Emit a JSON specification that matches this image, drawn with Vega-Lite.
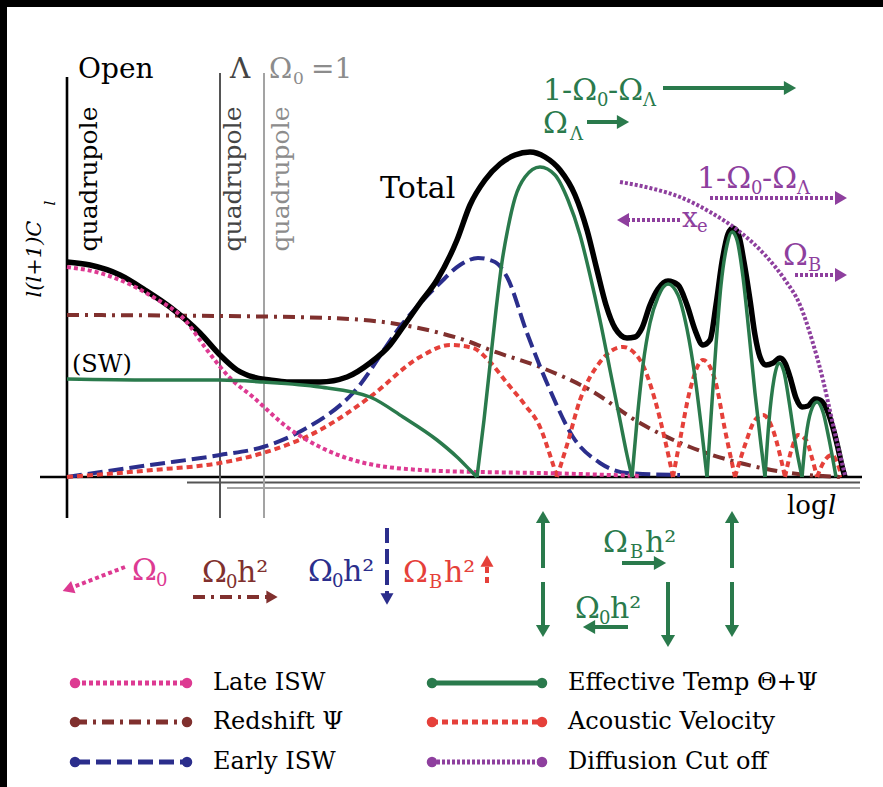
{
  "$schema": "https://vega.github.io/schema/vega-lite/v6.json",
  "width": 883,
  "height": 787,
  "autosize": {"type": "fit", "contains": "padding"},
  "padding": {"left": 7, "top": 7, "right": 0, "bottom": 0},
  "background": "#000000",
  "config": {"view": {"fill": "#ffffff", "stroke": null}, "text": {"font": "DejaVu Serif"}},
  "encoding": {
    "x": {"field": "x", "type": "quantitative", "scale": {"domain": [-6, 81.6], "nice": false, "zero": false}, "axis": null},
    "y": {"field": "y", "type": "quantitative", "scale": {"domain": [-77.5, 117.5], "nice": false, "zero": false}, "axis": null}
  },
  "datasets": {
    "curves": [
      {"s":"total","g":0,"x":0,"y":53.75},{"s":"total","g":0,"x":2.3,"y":53},{"s":"total","g":0,"x":5.3,"y":50.5},{"s":"total","g":0,"x":7.8,"y":46.75},{"s":"total","g":0,"x":10.3,"y":42.5},{"s":"total","g":0,"x":13.3,"y":36},{"s":"total","g":0,"x":15.3,"y":30.5},{"s":"total","g":0,"x":17,"y":26.75},{"s":"total","g":0,"x":18.6,"y":25},{"s":"total","g":0,"x":20.3,"y":24.25},{"s":"total","g":0,"x":22,"y":23.75},{"s":"total","g":0,"x":25.3,"y":23.75},{"s":"total","g":0,"x":28,"y":25},{"s":"total","g":0,"x":30.3,"y":28.5},{"s":"total","g":0,"x":32.3,"y":33},{"s":"total","g":0,"x":33.6,"y":37.5},{"s":"total","g":0,"x":35.3,"y":43.5},{"s":"total","g":0,"x":37,"y":49.25},{"s":"total","g":0,"x":39,"y":59.25},{"s":"total","g":0,"x":40.3,"y":68},{"s":"total","g":0,"x":41.8,"y":74.25},{"s":"total","g":0,"x":43.3,"y":78.25},{"s":"total","g":0,"x":44.8,"y":80.5},{"s":"total","g":0,"x":46.3,"y":81.25},{"s":"total","g":0,"x":47.8,"y":80},{"s":"total","g":0,"x":49.3,"y":76.75},{"s":"total","g":0,"x":50.8,"y":70.5},{"s":"total","g":0,"x":52,"y":61.75},{"s":"total","g":0,"x":53,"y":51.75},{"s":"total","g":0,"x":53.9,"y":43},{"s":"total","g":0,"x":54.8,"y":37.25},{"s":"total","g":0,"x":56,"y":34.75},{"s":"total","g":0,"x":56.8,"y":35},{"s":"total","g":0,"x":57.5,"y":37.25},{"s":"total","g":0,"x":58.3,"y":43},{"s":"total","g":0,"x":59.1,"y":47},{"s":"total","g":0,"x":60.1,"y":49},{"s":"total","g":0,"x":61.1,"y":48},{"s":"total","g":0,"x":62,"y":43},{"s":"total","g":0,"x":62.8,"y":36.75},{"s":"total","g":0,"x":63.6,"y":33},{"s":"total","g":0,"x":64.3,"y":34.25},{"s":"total","g":0,"x":64.9,"y":43},{"s":"total","g":0,"x":65.5,"y":53.75},{"s":"total","g":0,"x":66.1,"y":60.75},{"s":"total","g":0,"x":66.6,"y":62.25},{"s":"total","g":0,"x":67.1,"y":61},{"s":"total","g":0,"x":67.7,"y":53.75},{"s":"total","g":0,"x":68.3,"y":44.25},{"s":"total","g":0,"x":68.8,"y":35.5},{"s":"total","g":0,"x":69.3,"y":30},{"s":"total","g":0,"x":69.9,"y":28},{"s":"total","g":0,"x":70.6,"y":28.5},{"s":"total","g":0,"x":71.3,"y":29.75},{"s":"total","g":0,"x":71.8,"y":28.5},{"s":"total","g":0,"x":72.3,"y":25},{"s":"total","g":0,"x":72.9,"y":19.75},{"s":"total","g":0,"x":73.5,"y":17.5},{"s":"total","g":0,"x":74.1,"y":17.75},{"s":"total","g":0,"x":74.8,"y":19.5},{"s":"total","g":0,"x":75.3,"y":19.25},{"s":"total","g":0,"x":76,"y":16.75},{"s":"total","g":0,"x":76.6,"y":12.25},{"s":"total","g":0,"x":77.1,"y":7.25},{"s":"total","g":0,"x":77.6,"y":1.75},{"s":"total","g":0,"x":77.8,"y":0},

      {"s":"eff","g":0,"x":0,"y":24.5},{"s":"eff","g":0,"x":8.3,"y":24.25},{"s":"eff","g":0,"x":15.3,"y":24.25},{"s":"eff","g":0,"x":19.6,"y":23.75},{"s":"eff","g":0,"x":25.3,"y":22.5},{"s":"eff","g":0,"x":30.3,"y":20},{"s":"eff","g":0,"x":33.6,"y":15},{"s":"eff","g":0,"x":37,"y":9.25},{"s":"eff","g":0,"x":39,"y":5},{"s":"eff","g":0,"x":40.3,"y":1.75},{"s":"eff","g":0,"x":41,"y":0},
      {"s":"eff","g":1,"x":41,"y":0},{"s":"eff","g":1,"x":41.7,"y":14.25},{"s":"eff","g":1,"x":42.3,"y":28},{"s":"eff","g":1,"x":42.9,"y":41.75},{"s":"eff","g":1,"x":43.5,"y":53.75},{"s":"eff","g":1,"x":44.1,"y":62.25},{"s":"eff","g":1,"x":44.8,"y":69.75},{"s":"eff","g":1,"x":45.8,"y":75},{"s":"eff","g":1,"x":47.3,"y":77.5},{"s":"eff","g":1,"x":48.8,"y":75.5},{"s":"eff","g":1,"x":50.1,"y":69.25},{"s":"eff","g":1,"x":51.3,"y":60.5},{"s":"eff","g":1,"x":52.3,"y":50.5},{"s":"eff","g":1,"x":53.3,"y":39.25},{"s":"eff","g":1,"x":54.3,"y":26.75},{"s":"eff","g":1,"x":55.3,"y":14.25},{"s":"eff","g":1,"x":56,"y":5.5},{"s":"eff","g":1,"x":56.5,"y":0},
      {"s":"eff","g":2,"x":56.5,"y":0},{"s":"eff","g":2,"x":57,"y":14},{"s":"eff","g":2,"x":57.6,"y":28},{"s":"eff","g":2,"x":58.3,"y":38.5},{"s":"eff","g":2,"x":59.1,"y":45},{"s":"eff","g":2,"x":60.1,"y":48.25},{"s":"eff","g":2,"x":61.1,"y":45.5},{"s":"eff","g":2,"x":62,"y":37},{"s":"eff","g":2,"x":62.8,"y":25},{"s":"eff","g":2,"x":63.5,"y":11},{"s":"eff","g":2,"x":64,"y":0},
      {"s":"eff","g":3,"x":64,"y":0},{"s":"eff","g":3,"x":64.4,"y":15},{"s":"eff","g":3,"x":64.9,"y":33},{"s":"eff","g":3,"x":65.4,"y":48},{"s":"eff","g":3,"x":66,"y":58},{"s":"eff","g":3,"x":66.5,"y":61.25},{"s":"eff","g":3,"x":67,"y":59.25},{"s":"eff","g":3,"x":67.6,"y":50},{"s":"eff","g":3,"x":68.2,"y":36},{"s":"eff","g":3,"x":68.8,"y":21},{"s":"eff","g":3,"x":69.4,"y":8},{"s":"eff","g":3,"x":69.8,"y":0},
      {"s":"eff","g":4,"x":69.8,"y":0},{"s":"eff","g":4,"x":70.2,"y":14},{"s":"eff","g":4,"x":70.7,"y":24.5},{"s":"eff","g":4,"x":71.2,"y":28.5},{"s":"eff","g":4,"x":71.7,"y":26.25},{"s":"eff","g":4,"x":72.2,"y":19},{"s":"eff","g":4,"x":72.8,"y":9},{"s":"eff","g":4,"x":73.5,"y":0},
      {"s":"eff","g":5,"x":73.5,"y":0},{"s":"eff","g":5,"x":73.9,"y":10},{"s":"eff","g":5,"x":74.4,"y":16.5},{"s":"eff","g":5,"x":75,"y":18.75},{"s":"eff","g":5,"x":75.6,"y":16.25},{"s":"eff","g":5,"x":76.2,"y":9.5},{"s":"eff","g":5,"x":76.9,"y":0},

      {"s":"late","g":0,"x":0,"y":52.5},{"s":"late","g":0,"x":3.3,"y":51},{"s":"late","g":0,"x":8.6,"y":45},{"s":"late","g":0,"x":11.8,"y":39.25},{"s":"late","g":0,"x":14,"y":31.75},{"s":"late","g":0,"x":16.3,"y":24.75},{"s":"late","g":0,"x":18.6,"y":20},{"s":"late","g":0,"x":22,"y":12.5},{"s":"late","g":0,"x":25.3,"y":7.5},{"s":"late","g":0,"x":28.6,"y":4.25},{"s":"late","g":0,"x":35.3,"y":1.75},{"s":"late","g":0,"x":41.3,"y":1.25},{"s":"late","g":0,"x":47.3,"y":1},{"s":"late","g":0,"x":57.3,"y":0.25},

      {"s":"redshift","g":0,"x":0,"y":40.5},{"s":"redshift","g":0,"x":15.3,"y":40.25},{"s":"redshift","g":0,"x":26.3,"y":39.75},{"s":"redshift","g":0,"x":33.6,"y":38},{"s":"redshift","g":0,"x":37.3,"y":36},{"s":"redshift","g":0,"x":40.3,"y":33.75},{"s":"redshift","g":0,"x":42.3,"y":31.75},{"s":"redshift","g":0,"x":47.3,"y":27.5},{"s":"redshift","g":0,"x":52.3,"y":21.75},{"s":"redshift","g":0,"x":57.3,"y":13.5},{"s":"redshift","g":0,"x":62.3,"y":7.5},{"s":"redshift","g":0,"x":67.3,"y":3.5},{"s":"redshift","g":0,"x":72.3,"y":1},{"s":"redshift","g":0,"x":77.3,"y":0},

      {"s":"early","g":0,"x":0,"y":0},{"s":"early","g":0,"x":8.3,"y":3},{"s":"early","g":0,"x":15.3,"y":5.5},{"s":"early","g":0,"x":19.6,"y":7.5},{"s":"early","g":0,"x":23.6,"y":11.75},{"s":"early","g":0,"x":28.6,"y":21},{"s":"early","g":0,"x":33.6,"y":38.5},{"s":"early","g":0,"x":37.3,"y":48.5},{"s":"early","g":0,"x":39.3,"y":53},{"s":"early","g":0,"x":41.1,"y":54.75},{"s":"early","g":0,"x":42.8,"y":53.75},{"s":"early","g":0,"x":44,"y":50},{"s":"early","g":0,"x":46,"y":36},{"s":"early","g":0,"x":48.3,"y":21.75},{"s":"early","g":0,"x":50.6,"y":10},{"s":"early","g":0,"x":53.3,"y":3.5},{"s":"early","g":0,"x":56,"y":1},{"s":"early","g":0,"x":61.3,"y":0.5},

      {"s":"acoustic","g":1,"x":0,"y":0},{"s":"acoustic","g":1,"x":8.6,"y":1.75},{"s":"acoustic","g":1,"x":15.3,"y":3.5},{"s":"acoustic","g":1,"x":19.6,"y":6},{"s":"acoustic","g":1,"x":25.3,"y":11.75},{"s":"acoustic","g":1,"x":30.3,"y":20},{"s":"acoustic","g":1,"x":35.3,"y":30},{"s":"acoustic","g":1,"x":38.3,"y":33},{"s":"acoustic","g":1,"x":40.6,"y":32.25},{"s":"acoustic","g":1,"x":42.3,"y":28.75},{"s":"acoustic","g":1,"x":44,"y":23.5},{"s":"acoustic","g":1,"x":45.8,"y":18},{"s":"acoustic","g":1,"x":47.3,"y":12.5},{"s":"acoustic","g":1,"x":48.3,"y":5.5},{"s":"acoustic","g":1,"x":49,"y":0},
      {"s":"acoustic","g":2,"x":49,"y":0},{"s":"acoustic","g":2,"x":50,"y":8},{"s":"acoustic","g":2,"x":51.3,"y":19.25},{"s":"acoustic","g":2,"x":53.3,"y":28.75},{"s":"acoustic","g":2,"x":55.6,"y":32.5},{"s":"acoustic","g":2,"x":57.3,"y":29.25},{"s":"acoustic","g":2,"x":58.8,"y":19.25},{"s":"acoustic","g":2,"x":59.8,"y":9.25},{"s":"acoustic","g":2,"x":60.6,"y":0},
      {"s":"acoustic","g":3,"x":60.6,"y":0},{"s":"acoustic","g":3,"x":61.3,"y":9.25},{"s":"acoustic","g":3,"x":62.3,"y":21.75},{"s":"acoustic","g":3,"x":63.6,"y":29.25},{"s":"acoustic","g":3,"x":64.8,"y":24.25},{"s":"acoustic","g":3,"x":65.8,"y":11.75},{"s":"acoustic","g":3,"x":66.8,"y":0},
      {"s":"acoustic","g":4,"x":66.8,"y":0},{"s":"acoustic","g":4,"x":67.8,"y":8},{"s":"acoustic","g":4,"x":68.8,"y":14.25},{"s":"acoustic","g":4,"x":69.6,"y":15.5},{"s":"acoustic","g":4,"x":70.6,"y":11.75},{"s":"acoustic","g":4,"x":71.3,"y":5.5},{"s":"acoustic","g":4,"x":71.8,"y":0},
      {"s":"acoustic","g":5,"x":71.8,"y":0},{"s":"acoustic","g":5,"x":72.5,"y":7.25},{"s":"acoustic","g":5,"x":73.1,"y":10.5},{"s":"acoustic","g":5,"x":73.9,"y":9.25},{"s":"acoustic","g":5,"x":74.5,"y":4.75},{"s":"acoustic","g":5,"x":75,"y":0},
      {"s":"acoustic","g":6,"x":75,"y":0},{"s":"acoustic","g":6,"x":75.8,"y":4.25},{"s":"acoustic","g":6,"x":76.5,"y":5.5},{"s":"acoustic","g":6,"x":77.1,"y":3},{"s":"acoustic","g":6,"x":77.5,"y":0},

      {"s":"diff","g":0,"x":55.3,"y":73.75},{"s":"diff","g":0,"x":58.3,"y":72.25},{"s":"diff","g":0,"x":61.3,"y":70},{"s":"diff","g":0,"x":64.3,"y":66.25},{"s":"diff","g":0,"x":67.3,"y":61.25},{"s":"diff","g":0,"x":69.8,"y":55.5},{"s":"diff","g":0,"x":71.8,"y":49.25},{"s":"diff","g":0,"x":73.3,"y":43},{"s":"diff","g":0,"x":74.5,"y":34.25},{"s":"diff","g":0,"x":75.6,"y":24.25},{"s":"diff","g":0,"x":76.5,"y":14.25},{"s":"diff","g":0,"x":77.3,"y":5.5},{"s":"diff","g":0,"x":77.8,"y":0.5}
    ],
    "legend": [
      {"s":"late","x":0.8,"x2":12,"y":-51.5,"tx":14.6,"t":"Late ISW"},
      {"s":"redshift","x":0.8,"x2":12,"y":-61.25,"tx":14.6,"t":"Redshift Ψ"},
      {"s":"early","x":0.8,"x2":12,"y":-71.25,"tx":14.6,"t":"Early ISW"},
      {"s":"eff","x":36.5,"x2":47.5,"y":-51.5,"tx":50.1,"t":"Effective Temp Θ+Ψ"},
      {"s":"acoustic","x":36.5,"x2":47.5,"y":-61.25,"tx":50.1,"t":"Acoustic Velocity"},
      {"s":"diff","x":36.5,"x2":47.5,"y":-71.25,"tx":50.1,"t":"Diffusion Cut off"}
    ]
  },
  "layer": [
    {"data": {"values": [{"x":-2.7,"x2":79.5,"y":0,"y2":0},{"x":0,"x2":0,"y":100,"y2":-10.25}]},
     "mark": {"type": "rule", "color": "#000000", "strokeWidth": 2.6},
     "encoding": {"x2": {"field": "x2"}, "y2": {"field": "y2"}}},
    {"data": {"values": [{"x":12,"x2":79.3,"y":-1.4,"y2":-1.4},{"x":15.3,"x2":15.3,"y":101,"y2":-10.25}]},
     "mark": {"type": "rule", "color": "#555555", "strokeWidth": 2},
     "encoding": {"x2": {"field": "x2"}, "y2": {"field": "y2"}}},
    {"data": {"values": [{"x":16,"x2":79.3,"y":-2.75,"y2":-2.75},{"x":19.7,"x2":19.7,"y":101,"y2":-10.25}]},
     "mark": {"type": "rule", "color": "#a3a3a3", "strokeWidth": 2},
     "encoding": {"x2": {"field": "x2"}, "y2": {"field": "y2"}}},

    {"data": {"name": "curves"}, "transform": [{"filter": {"field": "s", "equal": "redshift"}}],
     "mark": {"type": "line", "interpolate": "monotone", "color": "#80302e", "strokeWidth": 4, "strokeDash": [12,6,3,6]},
     "encoding": {"detail": {"field": "g"}}},
    {"data": {"name": "curves"}, "transform": [{"filter": {"field": "s", "equal": "early"}}],
     "mark": {"type": "line", "interpolate": "monotone", "color": "#2b2e8c", "strokeWidth": 4, "strokeDash": [15,6]},
     "encoding": {"detail": {"field": "g"}}},
    {"data": {"name": "curves"}, "transform": [{"filter": {"field": "s", "equal": "acoustic"}}],
     "mark": {"type": "line", "interpolate": "monotone", "color": "#e5403a", "strokeWidth": 4, "strokeDash": [6,4]},
     "encoding": {"detail": {"field": "g"}}},
    {"data": {"name": "curves"}, "transform": [{"filter": {"field": "s", "equal": "total"}}],
     "mark": {"type": "line", "interpolate": "monotone", "color": "#000000", "strokeWidth": 5.5},
     "encoding": {"detail": {"field": "g"}}},
    {"data": {"name": "curves"}, "transform": [{"filter": {"field": "s", "equal": "late"}}],
     "mark": {"type": "line", "interpolate": "monotone", "color": "#dd3a92", "strokeWidth": 4, "strokeDash": [4,3]},
     "encoding": {"detail": {"field": "g"}}},
    {"data": {"name": "curves"}, "transform": [{"filter": {"field": "s", "equal": "eff"}}],
     "mark": {"type": "line", "interpolate": "monotone", "color": "#2a7a4c", "strokeWidth": 3.5},
     "encoding": {"detail": {"field": "g"}}},
    {"data": {"name": "curves"}, "transform": [{"filter": {"field": "s", "equal": "diff"}}],
     "mark": {"type": "line", "interpolate": "monotone", "color": "#8e3f9e", "strokeWidth": 4, "strokeDash": [3,2]},
     "encoding": {"detail": {"field": "g"}}},

    {"data": {"name": "legend"},
     "mark": {"type": "rule", "strokeWidth": 5, "strokeCap": "butt"},
     "encoding": {
       "x2": {"field": "x2"},
       "color": {"field": "s", "type": "nominal", "scale": {"domain": ["late","redshift","early","eff","acoustic","diff"], "range": ["#dd3a92","#80302e","#2b2e8c","#2a7a4c","#e5403a","#8e3f9e"]}, "legend": null},
       "strokeDash": {"field": "s", "type": "nominal", "scale": {"domain": ["late","redshift","early","eff","acoustic","diff"], "range": [[4,3],[12,6,3,6],[15,6],[1,0],[6,4],[3,2]]}, "legend": null}
     }},
    {"data": {"name": "legend"},
     "mark": {"type": "point", "filled": true, "size": 110, "opacity": 1},
     "encoding": {"color": {"field": "s", "type": "nominal", "legend": null}}},
    {"data": {"name": "legend"},
     "mark": {"type": "point", "filled": true, "size": 110, "opacity": 1},
     "encoding": {"x": {"field": "x2", "type": "quantitative"}, "color": {"field": "s", "type": "nominal", "legend": null}}},
    {"data": {"name": "legend"},
     "mark": {"type": "text", "font": "DejaVu Serif", "fontSize": 24, "color": "#000000", "align": "left", "baseline": "middle"},
     "encoding": {"x": {"field": "tx", "type": "quantitative"}, "text": {"field": "t"}}},

    {"data": {"values": [
        {"x":59.6,"y":97.25,"x2":71.9,"y2":97.25},
        {"x":52,"y":88.75,"x2":55.3,"y2":88.75},
        {"x":47.6,"y":-22.75,"x2":47.6,"y2":-11.25},
        {"x":47.6,"y":-26.25,"x2":47.6,"y2":-37.25},
        {"x":66.5,"y":-22.75,"x2":66.5,"y2":-11.25},
        {"x":66.5,"y":-26.25,"x2":66.5,"y2":-37.25},
        {"x":60.1,"y":-26.25,"x2":60.1,"y2":-39.75},
        {"x":55.5,"y":-21.5,"x2":58.9,"y2":-21.5},
        {"x":56.1,"y":-37.5,"x2":52.7,"y2":-37.5}
      ]},
     "mark": {"type": "rule", "color": "#2a7a4c", "strokeWidth": 4},
     "encoding": {"x2": {"field": "x2"}, "y2": {"field": "y2"}}},
    {"data": {"values": [
        {"x":72.3,"y":97.25,"d":"r"},
        {"x":55.6,"y":88.75,"d":"r"},
        {"x":47.6,"y":-10,"d":"u"},
        {"x":47.6,"y":-38.5,"d":"d"},
        {"x":66.5,"y":-10,"d":"u"},
        {"x":66.5,"y":-38.5,"d":"d"},
        {"x":60.1,"y":-41,"d":"d"},
        {"x":59.3,"y":-21.5,"d":"r"},
        {"x":52.2,"y":-37.5,"d":"l"}
      ]},
     "mark": {"type": "point", "filled": true, "size": 200, "opacity": 1, "color": "#2a7a4c"},
     "encoding": {"shape": {"field": "d", "type": "nominal", "scale": {"domain": ["r","l","u","d"], "range": ["triangle-right","triangle-left","triangle-up","triangle-down"]}, "legend": null}}},

    {"data": {"values": [
        {"x":64.3,"y":69.75,"x2":77.1,"y2":69.75},
        {"x":61.3,"y":64.25,"x2":56,"y2":64.25},
        {"x":72.8,"y":50.5,"x2":77.1,"y2":50.5}
      ]},
     "mark": {"type": "rule", "color": "#8e3f9e", "strokeWidth": 4, "strokeDash": [3,2]},
     "encoding": {"x2": {"field": "x2"}, "y2": {"field": "y2"}}},
    {"data": {"values": [
        {"x":77.4,"y":69.75,"d":"r"},
        {"x":55.6,"y":64.25,"d":"l"},
        {"x":77.4,"y":50.5,"d":"r"}
      ]},
     "mark": {"type": "point", "filled": true, "size": 190, "opacity": 1, "color": "#8e3f9e"},
     "encoding": {"shape": {"field": "d", "type": "nominal", "scale": {"domain": ["r","l","u","d"], "range": ["triangle-right","triangle-left","triangle-up","triangle-down"]}, "legend": null}}},

    {"data": {"values": [{"x":5.8,"y":-22.5,"x2":0.5,"y2":-27.6}]},
     "mark": {"type": "rule", "color": "#dd3a92", "strokeWidth": 4, "strokeDash": [4,3]},
     "encoding": {"x2": {"field": "x2"}, "y2": {"field": "y2"}}},
    {"data": {"values": [{"x":0.1,"y":-28}]},
     "mark": {"type": "point", "shape": "triangle-left", "angle": -20, "filled": true, "size": 170, "opacity": 1, "color": "#dd3a92"}},
    {"data": {"values": [{"x":12.6,"y":-30,"x2":20,"y2":-30}]},
     "mark": {"type": "rule", "color": "#80302e", "strokeWidth": 4, "strokeDash": [12,6,3,6]},
     "encoding": {"x2": {"field": "x2"}, "y2": {"field": "y2"}}},
    {"data": {"values": [{"x":20.5,"y":-30}]},
     "mark": {"type": "point", "shape": "triangle-right", "filled": true, "size": 170, "opacity": 1, "color": "#80302e"}},
    {"data": {"values": [{"x":32,"y":-12.75,"x2":32,"y2":-29.5}]},
     "mark": {"type": "rule", "color": "#2b2e8c", "strokeWidth": 4, "strokeDash": [15,6]},
     "encoding": {"x2": {"field": "x2"}, "y2": {"field": "y2"}}},
    {"data": {"values": [{"x":32,"y":-30.5}]},
     "mark": {"type": "point", "shape": "triangle-down", "filled": true, "size": 170, "opacity": 1, "color": "#2b2e8c"}},
    {"data": {"values": [{"x":42,"y":-26.5,"x2":42,"y2":-21.5}]},
     "mark": {"type": "rule", "color": "#e5403a", "strokeWidth": 4, "strokeDash": [6,4]},
     "encoding": {"x2": {"field": "x2"}, "y2": {"field": "y2"}}},
    {"data": {"values": [{"x":42,"y":-21}]},
     "mark": {"type": "point", "shape": "triangle-up", "filled": true, "size": 170, "opacity": 1, "color": "#e5403a"}},

    {"data": {"values": [{"x":1.1,"y":99.75,"t":"Open"}]},
     "mark": {"type": "text", "font": "DejaVu Serif", "fontSize": 28, "color": "#000000", "align": "left", "baseline": "alphabetic"},
     "encoding": {"text": {"field": "t"}}},
    {"data": {"values": [{"x":16.3,"y":99.75,"t":"Λ"}]},
     "mark": {"type": "text", "font": "DejaVu Serif", "fontSize": 28, "color": "#444444", "align": "left", "baseline": "alphabetic"},
     "encoding": {"text": {"field": "t"}}},
    {"data": {"values": [{"x":20.2,"y":99.75,"t":"Ω"},{"x":24.4,"y":99.75,"t":"=1"}]},
     "mark": {"type": "text", "font": "DejaVu Serif", "fontSize": 28, "color": "#8c8c8c", "align": "left", "baseline": "alphabetic"},
     "encoding": {"text": {"field": "t"}}},
    {"data": {"values": [{"x":22.6,"y":98.25,"t":"0"}]},
     "mark": {"type": "text", "font": "DejaVu Serif", "fontSize": 17, "color": "#8c8c8c", "align": "left", "baseline": "alphabetic"},
     "encoding": {"text": {"field": "t"}}},
    {"data": {"values": [{"x":31.3,"y":69.75,"t":"Total"}]},
     "mark": {"type": "text", "font": "DejaVu Serif", "fontSize": 30, "color": "#000000", "align": "left", "baseline": "alphabetic"},
     "encoding": {"text": {"field": "t"}}},
    {"data": {"values": [{"x":0.5,"y":26.25,"t":"(SW)"}]},
     "mark": {"type": "text", "font": "DejaVu Serif", "fontSize": 24, "color": "#000000", "align": "left", "baseline": "alphabetic"},
     "encoding": {"text": {"field": "t"}}},
    {"data": {"values": [{"x":72,"y":-9.25,"t":"log"}]},
     "mark": {"type": "text", "font": "DejaVu Serif", "fontSize": 26, "color": "#000000", "align": "left", "baseline": "alphabetic"},
     "encoding": {"text": {"field": "t"}}},
    {"data": {"values": [{"x":76.1,"y":-9.25,"t":"l"}]},
     "mark": {"type": "text", "font": "DejaVu Serif", "fontSize": 26, "fontStyle": "italic", "color": "#000000", "align": "left", "baseline": "alphabetic"},
     "encoding": {"text": {"field": "t"}}},
    {"data": {"values": [{"x":2.2,"y":74.5,"t":"quadrupole"}]},
     "mark": {"type": "text", "font": "DejaVu Serif", "fontSize": 25, "angle": 270, "align": "center", "baseline": "middle", "color": "#000000"},
     "encoding": {"text": {"field": "t"}}},
    {"data": {"values": [{"x":16.6,"y":74.5,"t":"quadrupole"}]},
     "mark": {"type": "text", "font": "DejaVu Serif", "fontSize": 25, "angle": 270, "align": "center", "baseline": "middle", "color": "#444444"},
     "encoding": {"text": {"field": "t"}}},
    {"data": {"values": [{"x":21.4,"y":74.5,"t":"quadrupole"}]},
     "mark": {"type": "text", "font": "DejaVu Serif", "fontSize": 25, "angle": 270, "align": "center", "baseline": "middle", "color": "#8c8c8c"},
     "encoding": {"text": {"field": "t"}}},
    {"data": {"values": [{"x":-3.2,"y":54.5,"t":"l(l+1)C"}]},
     "mark": {"type": "text", "font": "DejaVu Serif", "fontSize": 21, "fontStyle": "italic", "angle": 270, "align": "center", "baseline": "middle", "color": "#000000"},
     "encoding": {"text": {"field": "t"}}},
    {"data": {"values": [{"x":-1.7,"y":68.5,"t":"l"}]},
     "mark": {"type": "text", "font": "DejaVu Serif", "fontSize": 15, "fontStyle": "italic", "angle": 270, "align": "center", "baseline": "middle", "color": "#000000"},
     "encoding": {"text": {"field": "t"}}},

    {"data": {"values": [
        {"x":47.6,"y":94.25,"t":"1-Ω"},
        {"x":54.1,"y":94.25,"t":"-Ω"},
        {"x":47.6,"y":86,"t":"Ω"},
        {"x":53.6,"y":-18.75,"t":"Ω"},
        {"x":57.8,"y":-18.75,"t":"h²"},
        {"x":50.8,"y":-35.25,"t":"Ω"},
        {"x":54.3,"y":-35.25,"t":"h²"}
      ]},
     "mark": {"type": "text", "font": "DejaVu Serif", "fontSize": 30, "color": "#2a7a4c", "align": "left", "baseline": "alphabetic"},
     "encoding": {"text": {"field": "t"}}},
    {"data": {"values": [
        {"x":53,"y":92.75,"t":"0"},
        {"x":57.6,"y":92.75,"t":"Λ"},
        {"x":50.3,"y":84.25,"t":"Λ"},
        {"x":56.3,"y":-20.25,"t":"B"},
        {"x":53.2,"y":-36.75,"t":"0"}
      ]},
     "mark": {"type": "text", "font": "DejaVu Serif", "fontSize": 18, "color": "#2a7a4c", "align": "left", "baseline": "alphabetic"},
     "encoding": {"text": {"field": "t"}}},

    {"data": {"values": [
        {"x":63,"y":72.25,"t":"1-Ω"},
        {"x":69.5,"y":72.25,"t":"-Ω"},
        {"x":71.6,"y":53,"t":"Ω"}
      ]},
     "mark": {"type": "text", "font": "DejaVu Serif", "fontSize": 30, "color": "#8e3f9e", "align": "left", "baseline": "alphabetic"},
     "encoding": {"text": {"field": "t"}}},
    {"data": {"values": [{"x":61.5,"y":62.5,"t":"x"}]},
     "mark": {"type": "text", "font": "DejaVu Serif", "fontSize": 28, "color": "#8e3f9e", "align": "left", "baseline": "alphabetic"},
     "encoding": {"text": {"field": "t"}}},
    {"data": {"values": [
        {"x":68.4,"y":70.75,"t":"0"},
        {"x":73,"y":70.75,"t":"Λ"},
        {"x":63,"y":61.25,"t":"e"},
        {"x":74.1,"y":51.5,"t":"B"}
      ]},
     "mark": {"type": "text", "font": "DejaVu Serif", "fontSize": 18, "color": "#8e3f9e", "align": "left", "baseline": "alphabetic"},
     "encoding": {"text": {"field": "t"}}},

    {"data": {"values": [{"x":6.5,"y":-25.75,"t":"Ω"}]},
     "mark": {"type": "text", "font": "DejaVu Serif", "fontSize": 30, "color": "#dd3a92", "align": "left", "baseline": "alphabetic"},
     "encoding": {"text": {"field": "t"}}},
    {"data": {"values": [{"x":8.9,"y":-27.25,"t":"0"}]},
     "mark": {"type": "text", "font": "DejaVu Serif", "fontSize": 18, "color": "#dd3a92", "align": "left", "baseline": "alphabetic"},
     "encoding": {"text": {"field": "t"}}},
    {"data": {"values": [{"x":13.5,"y":-26.25,"t":"Ω"},{"x":17,"y":-26.25,"t":"h²"}]},
     "mark": {"type": "text", "font": "DejaVu Serif", "fontSize": 30, "color": "#80302e", "align": "left", "baseline": "alphabetic"},
     "encoding": {"text": {"field": "t"}}},
    {"data": {"values": [{"x":15.9,"y":-27.75,"t":"0"}]},
     "mark": {"type": "text", "font": "DejaVu Serif", "fontSize": 18, "color": "#80302e", "align": "left", "baseline": "alphabetic"},
     "encoding": {"text": {"field": "t"}}},
    {"data": {"values": [{"x":24.1,"y":-26,"t":"Ω"},{"x":27.6,"y":-26,"t":"h²"}]},
     "mark": {"type": "text", "font": "DejaVu Serif", "fontSize": 30, "color": "#2b2e8c", "align": "left", "baseline": "alphabetic"},
     "encoding": {"text": {"field": "t"}}},
    {"data": {"values": [{"x":26.5,"y":-27.5,"t":"0"}]},
     "mark": {"type": "text", "font": "DejaVu Serif", "fontSize": 18, "color": "#2b2e8c", "align": "left", "baseline": "alphabetic"},
     "encoding": {"text": {"field": "t"}}},
    {"data": {"values": [{"x":33.6,"y":-26.25,"t":"Ω"},{"x":37.7,"y":-26.25,"t":"h²"}]},
     "mark": {"type": "text", "font": "DejaVu Serif", "fontSize": 30, "color": "#e5403a", "align": "left", "baseline": "alphabetic"},
     "encoding": {"text": {"field": "t"}}},
    {"data": {"values": [{"x":36.2,"y":-27.75,"t":"B"}]},
     "mark": {"type": "text", "font": "DejaVu Serif", "fontSize": 18, "color": "#e5403a", "align": "left", "baseline": "alphabetic"},
     "encoding": {"text": {"field": "t"}}}
  ]
}
